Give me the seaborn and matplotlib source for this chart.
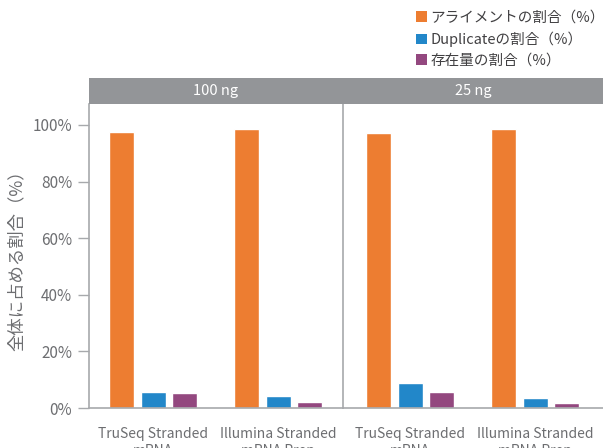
import matplotlib
matplotlib.use("Agg")
import matplotlib.pyplot as plt
import matplotlib.ticker as mticker
from matplotlib.patches import Patch
import seaborn as sns
import pandas as pd

# data
inputs = ["100 ng", "25 ng"]
kits = ["TruSeq Stranded\nmRNA", "Illumina Stranded\nmRNA Prep"]
metrics = ["アライメントの割合（%）", "Duplicateの割合（%）", "存在量の割合（%）"]
align_pct = [97.6, 98.7, 97.3, 98.7]
dup_pct = [5.6, 4.2, 8.8, 3.5]
abund_pct = [5.3, 2.1, 5.6, 1.8]

colors = ["#ED7D31", "#2287C9", "#93487F"]
text_gray = "#6D6E71"
line_gray = "#A7A9AC"

rows = []
for i, (a, d, s) in enumerate(zip(align_pct, dup_pct, abund_pct)):
    inp = inputs[i // 2]
    kit = kits[i % 2]
    for m, v in zip(metrics, (a, d, s)):
        rows.append({"input": inp, "kit": kit, "metric": m, "value": v})
df = pd.DataFrame(rows)

sns.set_theme(style="white")
plt.rcParams["font.family"] = ["Noto Sans CJK JP", "DejaVu Sans"]

W, H = 603, 448
fig = plt.figure(figsize=(W / 100, H / 100), dpi=100)

panels = [(89, 254, (-0.512, 1.52)), (343, 260, (-0.536, 1.544))]
axes = []
for k, (x0, w, xlim) in enumerate(panels):
    ax = fig.add_axes([x0 / W, 40 / H, w / W, 304 / H])
    sub = df[df["input"] == inputs[k]]
    sns.barplot(data=sub, x="kit", y="value", hue="metric", order=kits,
                hue_order=metrics, palette=colors, width=0.75, gap=0.2,
                saturation=1, ax=ax, legend=False)
    ax.set_xlim(*xlim)
    ax.set_ylim(0, 107.4)
    ax.set_xlabel("")
    ax.set_ylabel("")
    for side in ["top", "right"]:
        ax.spines[side].set_visible(False)
    ax.spines["bottom"].set_color(line_gray)
    ax.spines["left"].set_color(line_gray)
    ax.spines["left"].set_linewidth(1.2)
    ax.spines["bottom"].set_linewidth(1.2)
    ax.tick_params(axis="x", length=0, pad=14, labelsize=10, labelcolor=text_gray)
    ax.set_facecolor("none")
    axes.append(ax)

ax1, ax2 = axes
ax1.yaxis.set_major_locator(mticker.MultipleLocator(20))
ax1.yaxis.set_major_formatter(mticker.PercentFormatter(decimals=0))
ax1.tick_params(axis="y", left=True, length=8, width=1, color=line_gray,
                labelsize=11, labelcolor=text_gray, pad=4)
ax1.set_ylabel("全体に占める割合（%）", fontsize=12.5, color=text_gray, labelpad=5)
ax2.set_yticks([])

# facet strip
strip = fig.add_axes([89 / W, (H - 104) / H, (W - 89) / W, 26 / H])
strip.set_facecolor("#939598")
strip.set_xticks([])
strip.set_yticks([])
for s in strip.spines.values():
    s.set_visible(False)
strip.set_xlim(89, W)
strip.set_ylim(0, 1)
strip.text(89 + 254 / 2, 0.5, inputs[0], ha="center", va="center", color="white", fontsize=10.5)
strip.text(343 + 260 / 2, 0.5, inputs[1], ha="center", va="center", color="white", fontsize=10.5)

handles = [Patch(facecolor=c, edgecolor="none", label=m) for c, m in zip(colors, metrics)]
fig.legend(handles=handles, loc="upper right", bbox_to_anchor=(1.025, 1.005), frameon=False,
           fontsize=10.5, handlelength=0.75, handleheight=0.75, handletextpad=0.25,
           labelspacing=0.45, labelcolor="#414042")

fig.savefig("out.png", dpi=100)
